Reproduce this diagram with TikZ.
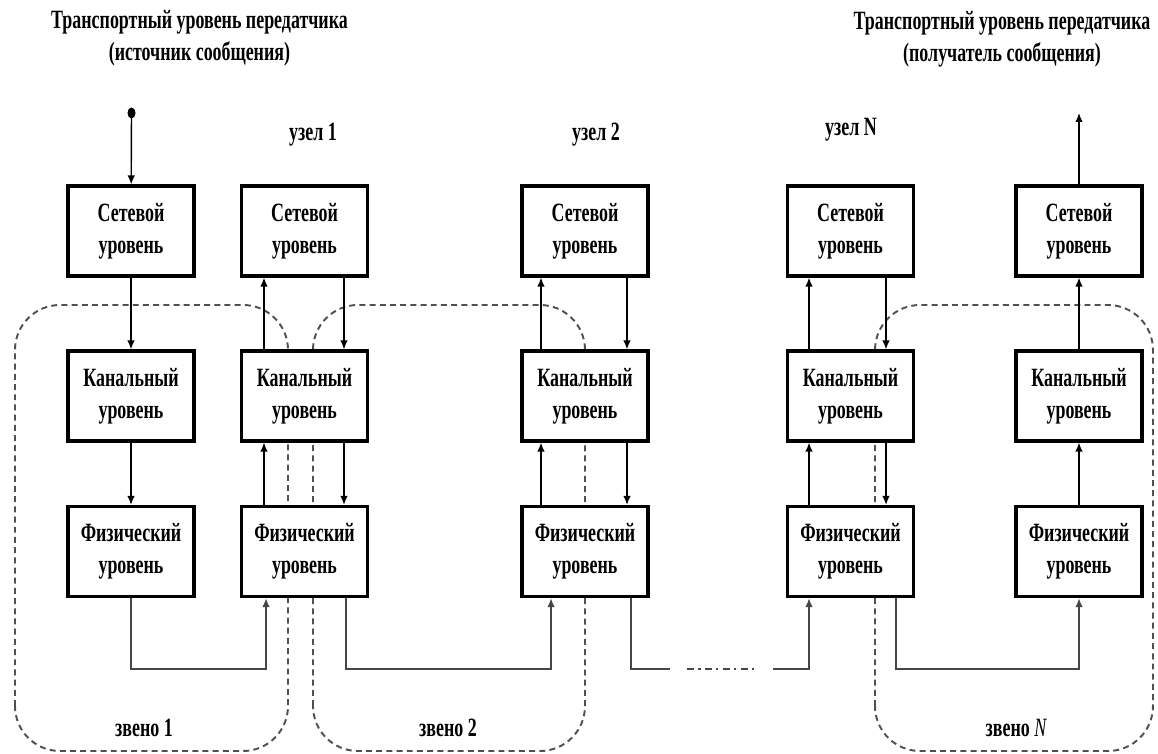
\documentclass[tikz,border=0pt]{standalone}
\usepackage{fontspec}
\setmainfont{Liberation Serif}[FakeStretch=0.68]
\usepackage{tikz}
\usetikzlibrary{arrows.meta,positioning}
\definecolor{osiframe}{RGB}{80,80,80}
\definecolor{osibus}{RGB}{70,70,70}
\tikzset{
  osibox/.style={draw, line width=1.8pt, fill=white, align=center, minimum width=2.52cm, minimum height=1.8cm, inner sep=0pt},
  osiarr/.style={-{Latex[length=1.8mm,width=1.5mm]}, line width=0.8pt},
  osibusline/.style={line width=1.1pt, draw=osibus},
  osibusarr/.style={-{Latex[length=1.8mm,width=1.5mm]}, line width=1.1pt, draw=osibus},
  osilink/.style={draw=osiframe, line width=1.1pt, dash pattern=on 3.4pt off 2.4pt, rounded corners=0.9cm},
  osidots/.style={draw=osibus, line width=1.1pt, dash pattern=on 4pt off 2.5pt on 1.2pt off 2.5pt}
}

\begin{document}
\begin{tikzpicture}[x=1cm, y=1cm, font=\fontsize{15}{18}\selectfont\bfseries]
  \useasboundingbox (0,0) rectangle (23.16,15.06);
  \draw[osilink] (0.30,0.04) rectangle (5.76,8.96);
  \draw[osilink] (6.26,0.04) rectangle (11.70,8.96);
  \draw[osilink] (17.50,0.04) rectangle (23.06,8.96);
  \foreach \i/\x in {1/2.62, 2/6.09, 3/11.70, 4/17.01, 5/21.58} {
    \node[osibox] (net\i) at (\x,10.44) {Сетевой\\уровень};
    \node[osibox] (kan\i) at (\x,7.14) {Канальный\\уровень};
    \node[osibox] (phy\i) at (\x,4.03) {Физический\\уровень};
  }
  \node[align=center] (src) at (3.99,14.30) {Транспортный уровень передатчика\\(источник сообщения)};
  \node[align=center] (dst) at (20.04,14.28) {Транспортный уровень передатчика\\(получатель сообщения)};
  \node (node1) at (6.26,12.36) {узел 1};
  \node (node2) at (11.92,12.36) {узел 2};
  \node (nodeN) at (17.02,12.46) {узел N};
  \node (link1) at (2.88,0.50) {звено 1};
  \node (link2) at (8.96,0.50) {звено 2};
  \node (linkN) at (20.32,0.50) {звено {\mdseries\itshape N}};

  \coordinate (srcpt) at (2.63,12.80);
  \coordinate (dstpt) at (21.58,12.80);
  \fill (srcpt) ellipse [x radius=0.08, y radius=0.11];
  \draw[osiarr] (srcpt) -- (net1);
  \draw[osiarr] (net1) -- (kan1);
  \draw[osiarr] (kan1) -- (phy1);
  \draw[osiarr] (phy5) -- (kan5);
  \draw[osiarr] (kan5) -- (net5);
  \draw[osiarr] (net5) -- (dstpt);
  \foreach \i/\l/\r in {2/-0.81/0.79, 3/-0.88/0.84, 4/-0.83/0.71} {
    \draw[osiarr] ([xshift=\l cm]phy\i.north) -- ([xshift=\l cm]kan\i.south);
    \draw[osiarr] ([xshift=\l cm]kan\i.north) -- ([xshift=\l cm]net\i.south);
    \draw[osiarr] ([xshift=\r cm]net\i.south) -- ([xshift=\r cm]kan\i.north);
    \draw[osiarr] ([xshift=\r cm]kan\i.south) -- ([xshift=\r cm]phy\i.north);
  }

  \coordinate (bus) at (0,1.68);
  \coordinate (gapA) at (13.40,1.68);
  \coordinate (dotsA) at (13.74,1.68);
  \coordinate (dotsB) at (15.14,1.68);
  \coordinate (gapB) at (15.46,1.68);
  \draw[osibusarr] (phy1.south) -- (phy1.south |- bus) -| ([xshift=-0.77cm]phy2.south);
  \draw[osibusarr] ([xshift=0.83cm]phy2.south) -- ([xshift=0.83cm]phy2.south |- bus) -| ([xshift=-0.68cm]phy3.south);
  \draw[osibusline] ([xshift=0.92cm]phy3.south) |- (gapA);
  \draw[osidots] (dotsA) -- (dotsB);
  \draw[osibusarr] (gapB) -| ([xshift=-0.83cm]phy4.south);
  \draw[osibusarr] ([xshift=0.91cm]phy4.south) -- ([xshift=0.91cm]phy4.south |- bus) -| (phy5.south);
\end{tikzpicture}
\end{document}
